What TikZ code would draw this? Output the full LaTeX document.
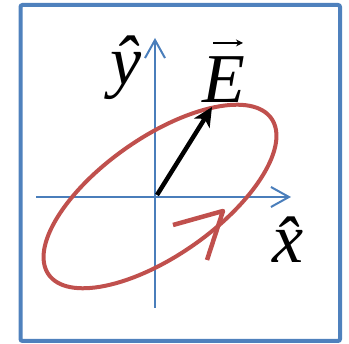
\documentclass[tikz,border=0pt]{standalone}
\usepackage{fontspec}
\setmainfont{Liberation Serif}
\usetikzlibrary{arrows.meta}
\definecolor{frameB}{HTML}{4F81BD}
\definecolor{axB}{HTML}{4A7EBB}
\definecolor{polR}{HTML}{C0504D}
\tikzset{>=Stealth,
  axis/.style={axB,line width=2pt,-{Straight Barb[length=18pt,width=20pt,line width=2pt]}},
  lbl/.style={font=\fontsize{70}{70}\selectfont\itshape,inner sep=0pt,anchor=base}}
\begin{document}
\begin{tikzpicture}[x=1pt,y=-1pt]
\useasboundingbox (0,0) rectangle (349,344);
\draw[frameB,line width=4pt,rounded corners=2pt] (20.5,5) rectangle (340,341);
% axes
\coordinate (O) at (155,197);
\coordinate (xbeg) at (36,197);
\coordinate (xend) at (291,197);
\coordinate (ybeg) at (155,308);
\coordinate (yend) at (155,38);
\draw[axis] (xbeg) -- (xend);
\draw[axis] (ybeg) -- (yend);
% polarisation ellipse
\draw[polR,line width=4pt,rotate around={35:(160,196.5)}] (160,196.5) ellipse [x radius=136,y radius=59];
\coordinate (rtip) at (223,211);
\draw[polR,line width=4.5pt,line join=round] (173,225) -- (rtip) -- (207,260);
% field vector
\coordinate (etip) at (212,107);
\draw[line width=4.5pt,-{Stealth[length=19pt,width=18pt,inset=5pt]}] (157,195) -- (etip);
% labels
\node[lbl] (yhat) at (126,85) {\^y};
\node[lbl] (xhat) at (288,263) {\^x};
\node[lbl] (efield) at (224,103) {E};
\draw[line width=1.5pt,-{Stealth[length=7pt,width=7pt]}] ([xshift=-11pt,yshift=14pt]efield.north) -- ([xshift=19pt,yshift=14pt]efield.north);
\end{tikzpicture}
\end{document}
